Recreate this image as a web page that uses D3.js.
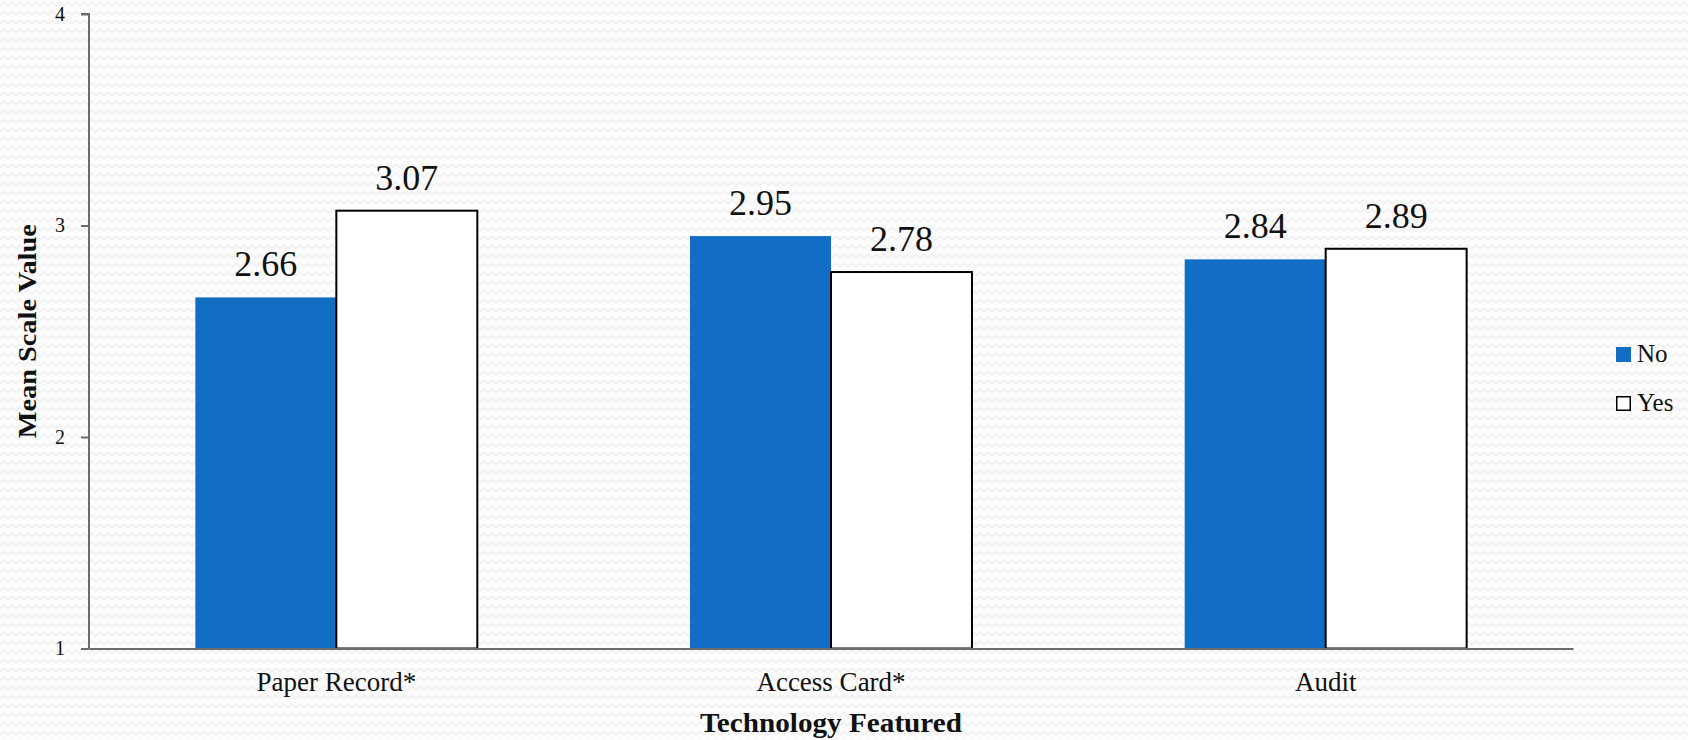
<!DOCTYPE html>
<html>
<head>
<meta charset="utf-8">
<script src="https://cdn.jsdelivr.net/npm/d3@7"></script>
<style>
  html, body { margin: 0; padding: 0; background: #fbfbfb; }
  svg { display: block; }
</style>
</head>
<body>
<svg id="chart" width="1688" height="740"></svg>
<script>
// Mean scale value by technology featured, split by No / Yes
const categories = ["Paper Record*", "Access Card*", "Audit"];
const seriesNames = ["No", "Yes"];
const noValues = [2.66, 2.95, 2.84];
const yesValues = [3.07, 2.78, 2.89];
const yTicks = [1, 2, 3, 4];

const W = 1688, H = 740;
const margin = { left: 89, right: 115, top: 14, bottom: 91.5 };
const svg = d3.select("#chart");
const serif = "'Liberation Serif', 'DejaVu Serif', serif";

// subtle zigzag paper texture
const defs = svg.append("defs");
const pat = defs.append("pattern")
  .attr("id", "zigzag").attr("patternUnits", "userSpaceOnUse")
  .attr("width", 8).attr("height", 9);
pat.append("rect").attr("width", 8).attr("height", 9).attr("fill", "#fcfcfc");
pat.append("polyline")
  .attr("points", "0,6 4,2 8,6")
  .attr("fill", "none").attr("stroke", "#efefef").attr("stroke-width", 1.3);
svg.append("rect").attr("width", W).attr("height", H).attr("fill", "url(#zigzag)");

const x0 = d3.scaleBand()
  .domain(categories)
  .range([margin.left, W - margin.right])
  .paddingInner(0.43)
  .paddingOuter(0.215);

const x1 = d3.scaleBand()
  .domain(seriesNames)
  .range([0, x0.bandwidth()]);

const y = d3.scaleLinear()
  .domain([1, 4])
  .range([H - margin.bottom, margin.top]);

const colors = { No: "#126ec4", Yes: "#ffffff" };
const rows = categories.map((c, i) => ({ cat: c, No: noValues[i], Yes: yesValues[i] }));

// bars
const groups = svg.append("g").selectAll("g")
  .data(rows).join("g")
  .attr("transform", d => `translate(${x0(d.cat)},0)`);

groups.selectAll("rect")
  .data(d => seriesNames.map(s => ({ s, v: d[s] })))
  .join("rect")
  .attr("x", d => x1(d.s))
  .attr("y", d => y(d.v))
  .attr("width", x1.bandwidth())
  .attr("height", d => y(1) - y(d.v))
  .attr("fill", d => colors[d.s])
  .attr("stroke", d => d.s === "Yes" ? "#000" : "none")
  .attr("stroke-width", 2);

// value labels
groups.selectAll("text.val")
  .data(d => seriesNames.map(s => ({ s, v: d[s] })))
  .join("text")
  .attr("class", "val")
  .attr("x", d => x1(d.s) + x1.bandwidth() / 2)
  .attr("y", d => y(d.v) - 21)
  .attr("text-anchor", "middle")
  .style("font-family", serif)
  .style("font-size", "36px")
  .style("font-variant-numeric", "oldstyle-nums")
  .attr("fill", "#111")
  .text(d => d.v.toFixed(2));

// y axis
const yAxis = d3.axisLeft(y).tickValues(yTicks).tickFormat(d3.format("d")).tickSize(8).tickPadding(16);
const gy = svg.append("g")
  .attr("transform", `translate(${margin.left},0)`)
  .call(yAxis);
gy.select(".domain").attr("stroke", "#6b6b6b").attr("stroke-width", 2)
  .attr("d", `M${-8},${y(4)}H0V${y(1)}`);
gy.selectAll(".tick line").attr("stroke", "#6b6b6b").attr("stroke-width", 2);
gy.selectAll(".tick text")
  .style("font-family", serif)
  .style("font-size", "20px")
  .attr("fill", "#111");

// x axis
const xAxis = d3.axisBottom(x0).tickSize(0).tickPadding(23);
const gx = svg.append("g")
  .attr("transform", `translate(0,${y(1)})`)
  .call(xAxis);
gx.select(".domain").attr("stroke", "#6b6b6b").attr("stroke-width", 2);
gx.selectAll(".tick text")
  .style("font-family", serif)
  .style("font-size", "27px")
  .attr("fill", "#111");

// axis titles
svg.append("text")
  .attr("x", (margin.left + W - margin.right) / 2)
  .attr("y", 732)
  .attr("text-anchor", "middle")
  .attr("textLength", 262)
  .attr("lengthAdjust", "spacingAndGlyphs")
  .style("font-family", serif)
  .style("font-size", "27px")
  .style("font-weight", "bold")
  .attr("fill", "#111")
  .text("Technology Featured");

svg.append("text")
  .attr("transform", `translate(36,${(y(2) + y(3)) / 2}) rotate(-90)`)
  .attr("text-anchor", "middle")
  .attr("textLength", 214)
  .attr("lengthAdjust", "spacingAndGlyphs")
  .style("font-family", serif)
  .style("font-size", "26px")
  .style("font-weight", "bold")
  .attr("fill", "#111")
  .text("Mean Scale Value");

// legend
const legend = svg.append("g").attr("transform", "translate(1616,347)");
const li = legend.selectAll("g").data(seriesNames).join("g")
  .attr("transform", (d, i) => `translate(0,${i * 49})`);
li.append("rect")
  .attr("x", d => d === "Yes" ? 0.75 : 0)
  .attr("y", d => d === "Yes" ? 0.75 : 0)
  .attr("width", d => d === "Yes" ? 13.5 : 15)
  .attr("height", d => d === "Yes" ? 13.5 : 15)
  .attr("fill", d => colors[d])
  .attr("stroke", d => d === "Yes" ? "#000" : "none")
  .attr("stroke-width", 1.5);
li.append("text")
  .attr("x", 21)
  .attr("y", 15)
  .style("font-family", serif)
  .style("font-size", "25px")
  .attr("fill", "#111")
  .text(d => d);
</script>
</body>
</html>
